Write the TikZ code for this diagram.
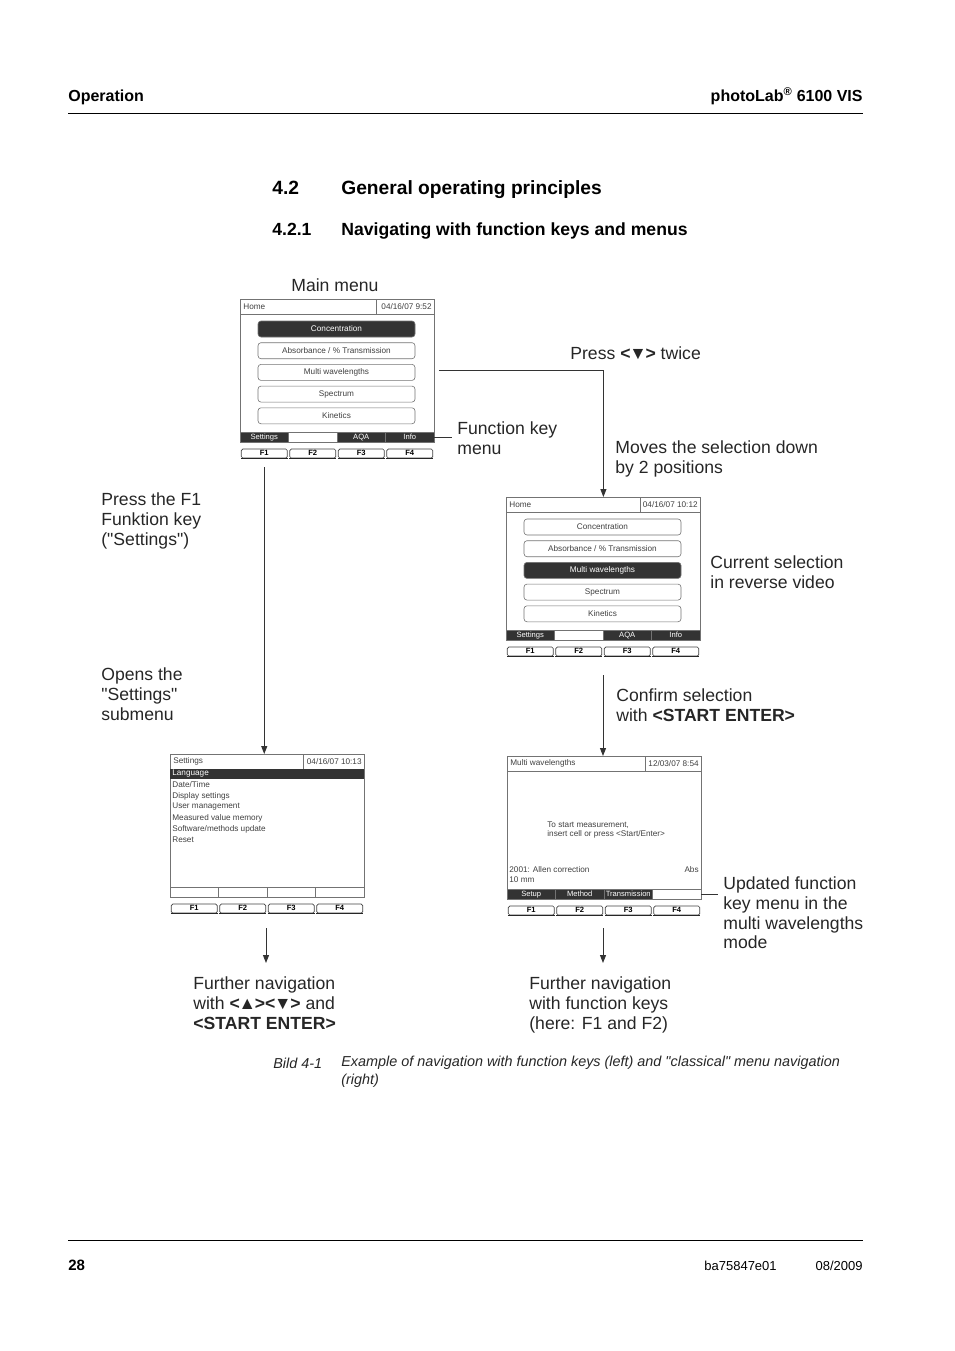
\documentclass[tikz,border=0pt]{standalone}
\usepackage{fontspec}
\setmainfont{Liberation Sans}
\usetikzlibrary{arrows.meta,positioning,calc}

\newcommand{\notefont}{\fontsize{17.6}{19.8}\selectfont}
\newcommand{\lcdfont}{\fontsize{8.2}{9}\selectfont}
\newcommand{\keyfont}{\fontsize{7.6}{9}\selectfont}
\newcommand{\downkey}{<\kern-1.2pt▼\kern-1.2pt>}
\newcommand{\upkey}{<\kern-1.2pt▲\kern-1.2pt>}

\tikzset{every picture/.style={line width=0.75pt}}
\tikzset{
  note/.style={anchor=north west, inner sep=0pt, align=left, font=\notefont, text=black!85, execute at begin node=\strut},
  lcd/.style={draw=black!55, line width=0.8pt, minimum width=194pt, minimum height=143pt, inner sep=0pt, anchor=north west},
  lcdtext/.style={font=\lcdfont, text=black!75, inner sep=0pt},
  softkey/.style={draw=black!55, line width=0.6pt, minimum width=48.5pt, minimum height=10pt, inner sep=0pt, text height=5.4pt, text depth=1.2pt, font=\keyfont, text=white},
  fkey/.style={draw=black!75, line width=0.7pt, rounded corners=1.5pt, minimum width=46pt, minimum height=9pt, inner sep=0pt, text height=5.4pt, text depth=0.6pt, font=\keyfont\bfseries},
  menubtn/.style={draw=black!55, line width=0.6pt, rounded corners=3pt, minimum width=157pt, minimum height=16pt, inner sep=0pt, font=\lcdfont},
  flow/.style={draw=black!80, line width=1pt, -{Triangle[length=8pt,width=6pt]}},
  pointer/.style={draw=black!80, line width=1pt},
  pagehead/.style={inner sep=0pt, font=\fontsize{16}{19}\selectfont\bfseries},
}

% display frame with title bar, soft keys and F keys
% #1 name, #2 top left corner, #3 title, #4 date, #5 soft keys, #6 date field
\newcommand{\lcdscreen}[6]{%
  \node[lcd] (#1) at (#2) {};
  \begin{scope}[shift={(#2)}]
    \draw[black!55, line width=0.6pt] (0,15) -- (194,15) (#6,0) -- (#6,15);
    \node[lcdtext, anchor=west] (#1-title) at (3,7.5) {#3};
    \node[lcdtext, anchor=east] (#1-date) at (192,7.5) {#4};
    \foreach \lab/\col [count=\i] in {#5}
      \node[softkey, fill=\col] (#1-s\i) at ({24.25+48.5*(\i-1)},138) {\lab};
    \foreach \i in {1,...,4} {
      \node[fkey] (#1-f\i) at ({24.25+48.5*(\i-1)},154.5) {F\i};
      \draw[black!85, line width=1.6pt] (#1-f\i.south west) -- (#1-f\i.south east);
    }
  \end{scope}}

\begin{document}
\begin{tikzpicture}[x=1pt,y=-1pt]
    \useasboundingbox (0,0) rectangle (954,1351);

    % page head
    \node[pagehead, anchor=base west] (headl) at (68,101.7) {Operation};
    \node[pagehead, anchor=base east] (headr) at (863,101.7) {photoLab\textsuperscript{®} 6100 VIS};
    \draw[line width=1pt] (68,114) -- (863,114);

    % section titles
    \node[anchor=base west, inner sep=0pt, font=\fontsize{19.2}{23}\selectfont\bfseries] (secnum) at (272,194.9) {4.2};
    \node[anchor=base west, inner sep=0pt, font=\fontsize{19.2}{23}\selectfont\bfseries] (sectitle) at (341,194.9) {General operating principles};
    \node[anchor=base west, inner sep=0pt, font=\fontsize{17.6}{21}\selectfont\bfseries] (subnum) at (272,235.3) {4.2.1};
    \node[anchor=base west, inner sep=0pt, font=\fontsize{17.6}{21}\selectfont\bfseries] (subtitle) at (341,235.3) {Navigating with function keys and menus};

    % main menu
    \lcdscreen{main}{240,299}{Home}{04/16/07 9:52}{Settings/black!80,/white,AQA/black!80,Info/black!80}{136}
    \begin{scope}[shift={(240,299)}]
        \foreach \txt/\bg/\fg [count=\i] in {Concentration/black!80/white, {Absorbance / \% Transmission}/white/black!75, Multi wavelengths/white/black!75, Spectrum/white/black!75, Kinetics/white/black!75}
            \node[menubtn, fill=\bg, text=\fg] (main-b\i) at (96.5,{30+21.7*(\i-1)}) {\txt};
    \end{scope}

    % selection moved down
    \lcdscreen{sel}{506,497}{Home}{04/16/07 10:12}{Settings/black!80,/white,AQA/black!80,Info/black!80}{134}
    \begin{scope}[shift={(506,497)}]
        \foreach \txt/\bg/\fg [count=\i] in {Concentration/white/black!75, {Absorbance / \% Transmission}/white/black!75, Multi wavelengths/black!80/white, Spectrum/white/black!75, Kinetics/white/black!75}
            \node[menubtn, fill=\bg, text=\fg] (sel-b\i) at (96.5,{30+21.7*(\i-1)}) {\txt};
    \end{scope}

    % settings submenu
    \lcdscreen{set}{170,754}{Settings}{04/16/07 10:13}{/white,/white,/white,/white}{133}
    \begin{scope}[shift={(170,754)}]
        \fill[black!80] (0.4,15.3) rectangle (193.6,25);
        \foreach \txt/\fg [count=\i] in {Language/white, {Date/Time}/black!75, Display settings/black!75, User management/black!75, Measured value memory/black!75, {Software/methods update}/black!75, Reset/black!75}
            \node[lcdtext, anchor=west, text=\fg] (set-i\i) at (2,{20+11*(\i-1)}) {\txt};
    \end{scope}

    % multi wavelengths mode
    \lcdscreen{multi}{507,756}{Multi wavelengths}{12/03/07 8:54}{Setup/black!80,Method/black!80,Transmission/black!80,/white}{138}
    \begin{scope}[shift={(507,756)}]
        \node[lcdtext, anchor=west] (msg1) at (40,69) {To start measurement,};
        \node[lcdtext, anchor=west] (msg2) at (40,78.5) {insert cell or press <Start/Enter>};
        \node[lcdtext, anchor=west] (method) at (2,114) {2001: Allen correction};
        \node[lcdtext, anchor=west] (cell) at (2,123.5) {10 mm};
        \node[lcdtext, anchor=east] (unit) at (192,114) {Abs};
    \end{scope}

    % labels
    \node[note] (mainlbl) at (291,277.4) {Main menu};
    \node[note] (twice) at (570,345.4) {Press \textbf{\downkey} twice};
    \node[note] (fkmenu) at (457,421.4) {Function key\\menu};
    \node[note] (moves) at (615,440.4) {Moves the selection down\\by 2 positions};
    \node[note] (pressf1) at (101,492.4) {Press the F1\\Funktion key\\(\textquotedbl Settings\textquotedbl)};
    \node[note] (current) at (710,555.4) {Current selection\\in reverse video};
    \node[note] (opens) at (101,667.4) {Opens the\\\textquotedbl Settings\textquotedbl\\submenu};
    \node[note] (confirm) at (616,688.4) {Confirm selection\\with \textbf{<START ENTER>}};
    \node[note] (updated) at (723,876.4) {Updated function\\key menu in the\\multi wavelengths\\mode};
    \node[note] (leftnav) at (193,976.4) {Further navigation\\with \textbf{\upkey\downkey} and\\\textbf{<START ENTER>}};
    \node[note] (rightnav) at (529,976.4) {Further navigation\\with function keys\\(here: F1 and F2)};

    % arrows
    \coordinate (selout) at (603,675);
    \coordinate (setout) at (266,928);
    \coordinate (setend) at (266,963);
    \coordinate (multiout) at (603,928);
    \coordinate (multiend) at (603,963);
    \draw[flow] ([xshift=4pt]main.east) -| (sel.north);
    \draw[flow] ([yshift=-9pt]main-f1.south) -- (main-f1.south |- set.north);
    \draw[flow] (selout) -- (selout |- multi.north);
    \draw[flow] (setout) -- (setend);
    \draw[flow] (multiout) -- (multiend);

    % pointers to the soft key bar
    \draw[pointer] (main-s4.east) -- ([xshift=-5pt]main-s4.east -| fkmenu.west);
    \draw[pointer] (multi-s4.east) -- ([xshift=-5pt]multi-s4.east -| updated.west);

    % caption
    \node[anchor=base west, inner sep=0pt, font=\fontsize{14.4}{18}\selectfont\itshape, text=black!85] (capnum) at (273,1068.2) {Bild 4-1};
    \node[anchor=north west, inner sep=0pt, align=left, font=\fontsize{14.4}{18}\selectfont\itshape, text=black!85, execute at begin node=\strut] (captext) at (341,1055.6) {Example of navigation with function keys (left) and \textquotedbl classical\textquotedbl\ menu navigation\\(right)};

    % page foot
    \draw[line width=1pt] (68,1240) -- (863,1240);
    \node[anchor=base west, inner sep=0pt, font=\fontsize{15}{18}\selectfont\bfseries] (pagenum) at (68,1270.4) {28};
    \node[anchor=base west, inner sep=0pt, font=\fontsize{13}{16}\selectfont] (docnum) at (704,1270) {ba75847e01};
    \node[anchor=base east, inner sep=0pt, font=\fontsize{13}{16}\selectfont] (docdate) at (863,1270) {08/2009};
\end{tikzpicture}
\end{document}
